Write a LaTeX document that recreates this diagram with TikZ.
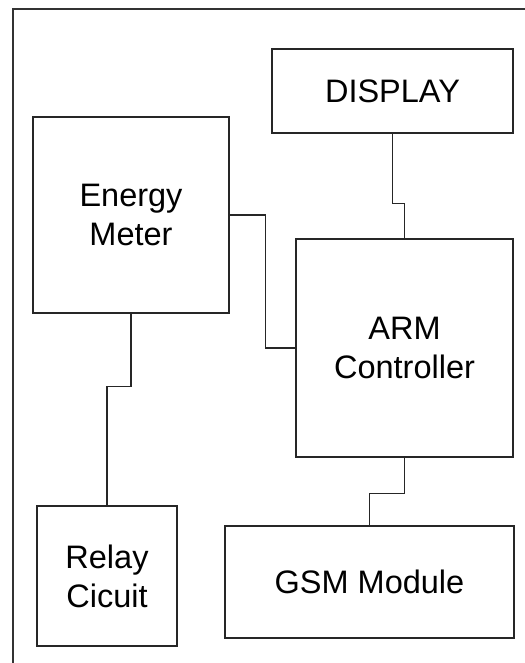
\documentclass[tikz,border=0pt]{standalone}
\usepackage{fontspec}
\setmainfont{Liberation Sans}
\usetikzlibrary{positioning}

\begin{document}
\begin{tikzpicture}[
  x=1pt, y=-1pt,
  bbox/.style={rectangle, draw=black!85, line width=1.3pt, inner sep=0pt,
               font=\fontsize{32.5}{39}\selectfont, align=center},
  wire/.style={draw=black!85, line width=1.3pt}
]
\useasboundingbox (0,0) rectangle (524,663);

% Outer frame (runs off the page at right and bottom)
\draw[line width=1.6pt, draw=black!80] (13,680) -- (13,9) -- (540,9);

% Blocks
\node[bbox, minimum width=241pt, minimum height=84pt]  (disp)  at (392.5, 91)  {DISPLAY};
\node[bbox, minimum width=196pt, minimum height=196pt] (meter) at (131, 215)   {Energy\\Meter};
\node[bbox, minimum width=217pt, minimum height=218pt] (arm)   at (404.5, 348) {ARM\\Controller};
\node[bbox, minimum width=140pt, minimum height=140pt] (relay) at (107, 576)   {Relay\\Cicuit};
\node[bbox, minimum width=289pt, minimum height=112pt] (gsm)   at (369.5, 582) {GSM Module};

% Wires
\draw[wire] (disp.south)  -- ++(0,70) -| (arm.north);
\draw[wire] (meter.east)  -- ++(36,0) |- (arm.west);
\draw[wire] (meter.south) -- ++(0,73) -| (relay.north);
\draw[wire] (arm.south)   -- ++(0,36) -| (gsm.north);
\end{tikzpicture}
\end{document}
